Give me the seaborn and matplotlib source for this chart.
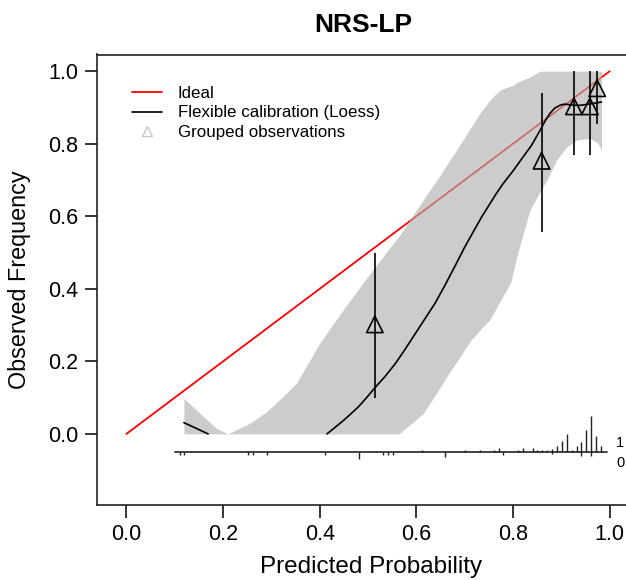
#!/usr/bin/env python3
# -*- coding: utf-8 -*-
"""
NRS-LP calibration plot (flexible loess calibration + grouped observations)
"""

import seaborn as sns
import matplotlib
matplotlib.use("Agg")
import matplotlib.pyplot as plt
from matplotlib.lines import Line2D
import numpy as np
import pandas as pd

# ---- data ----
# ideal line
ideal_x = [0.0, 1.0]
ideal_y = [0.0, 1.0]

# loess curve (two visible pieces, the middle part lies below 0)
loess_x1 = [0.119, 0.145, 0.169]
loess_y1 = [0.031, 0.015, 0.0]
loess_x2 = [0.415, 0.430, 0.450, 0.465, 0.481, 0.497, 0.514, 0.535, 0.556, 0.576,
            0.597, 0.618, 0.639, 0.660, 0.680, 0.700, 0.721, 0.735, 0.750, 0.765,
            0.780, 0.800, 0.821, 0.838, 0.856, 0.866, 0.876, 0.886, 0.897, 0.905,
            0.915, 0.925, 0.940, 0.955, 0.966, 0.983]
loess_y2 = [0.0, 0.016, 0.038, 0.056, 0.076, 0.100, 0.127, 0.158, 0.193, 0.232,
            0.275, 0.318, 0.361, 0.412, 0.463, 0.515, 0.565, 0.598, 0.630, 0.662,
            0.691, 0.725, 0.764, 0.795, 0.837, 0.862, 0.883, 0.898, 0.906, 0.909,
            0.908, 0.906, 0.906, 0.909, 0.911, 0.915]

# confidence band of the loess curve
band_x = [0.119, 0.152, 0.186, 0.210, 0.255, 0.290, 0.324, 0.352, 0.400, 0.450,
          0.500, 0.550, 0.564, 0.600, 0.614, 0.650, 0.663, 0.683, 0.713, 0.731,
          0.752, 0.763, 0.773, 0.796, 0.800, 0.810, 0.835, 0.856, 0.870, 0.890,
          0.911, 0.932, 0.959, 0.976, 0.983]
band_hi = [0.098, 0.057, 0.016, 0.0, 0.029, 0.061, 0.103, 0.140, 0.250, 0.345,
           0.435, 0.522, 0.545, 0.617, 0.645, 0.715, 0.742, 0.782, 0.845, 0.883,
           0.920, 0.935, 0.948, 0.960, 0.961, 0.970, 0.984, 1.0, 1.0, 1.0,
           1.0, 1.0, 1.0, 1.0, 1.0]
band_lo = [0.0, 0.0, 0.0, 0.0, 0.0, 0.0, 0.0, 0.0, 0.0, 0.0,
           0.0, 0.0, 0.0, 0.040, 0.056, 0.130, 0.158, 0.198, 0.259, 0.285,
           0.315, 0.341, 0.365, 0.420, 0.445, 0.500, 0.617, 0.668, 0.700, 0.755,
           0.791, 0.810, 0.815, 0.801, 0.782]

# grouped observations with 95% CI
group_x = [0.514, 0.859, 0.926, 0.959, 0.974]
group_y = [0.302, 0.753, 0.903, 0.903, 0.953]
group_lo = [0.099, 0.558, 0.768, 0.768, 0.855]
group_hi = [0.500, 0.941, 1.0, 1.0, 1.0]

# spike histogram of predictions (events up, non-events down)
spike1_x = [0.611, 0.700, 0.731, 0.761, 0.771, 0.811, 0.820, 0.841, 0.849, 0.859,
            0.870, 0.880, 0.890, 0.901, 0.911, 0.921, 0.932, 0.941, 0.950, 0.961,
            0.971, 0.981]
spike1_h = [0.006, 0.006, 0.006, 0.006, 0.011, 0.006, 0.011, 0.011, 0.006, 0.006,
            0.006, 0.008, 0.017, 0.030, 0.050, 0.006, 0.017, 0.028, 0.061, 0.099,
            0.044, 0.017]
spike0_x = [0.110, 0.119, 0.252, 0.261, 0.290, 0.411, 0.482, 0.531, 0.542, 0.551,
            0.660, 0.780, 0.880, 0.941, 0.961]
spike0_h = [0.008, 0.008, 0.008, 0.008, 0.008, 0.008, 0.019, 0.008, 0.008, 0.008,
            0.014, 0.008, 0.006, 0.011, 0.011]
spike_base = -0.05

ticks = [0.0, 0.2, 0.4, 0.6, 0.8, 1.0]
tick_labels = ["0.0", "0.2", "0.4", "0.6", "0.8", "1.0"]


def main():
    sns.set_style("ticks")
    plt.rcParams["font.family"] = ["Liberation Sans", "DejaVu Sans"]
    plt.rcParams["text.color"] = "black"
    plt.rcParams["axes.labelcolor"] = "black"
    plt.rcParams["xtick.color"] = "black"
    plt.rcParams["ytick.color"] = "black"

    fig = plt.figure(figsize=(6.26, 5.8), dpi=100)
    # right edge of the plot box lies just past the figure edge
    ax = fig.add_axes([97 / 626, 75 / 580, 548 / 626, 450.5 / 580])

    # ideal line under the band
    sns.lineplot(x=ideal_x, y=ideal_y, color="red", linewidth=1.3, ax=ax,
                 legend=False, zorder=2)

    # confidence band
    ax.fill_between(band_x, band_lo, band_hi, color="#afafaf", alpha=0.63,
                    linewidth=0, zorder=3)

    # loess curve
    sns.lineplot(x=loess_x1, y=loess_y1, color="black", linewidth=1.2, ax=ax,
                 legend=False, zorder=4)
    sns.lineplot(x=loess_x2, y=loess_y2, color="black", linewidth=1.2, ax=ax,
                 legend=False, zorder=4, sort=False)

    # grouped observations
    ax.vlines(group_x, group_lo, group_hi, color="black", linewidth=1.2, zorder=5)
    sns.scatterplot(x=group_x, y=group_y, marker="^", s=140, facecolor="none",
                    edgecolor="black", linewidth=1.2, ax=ax, zorder=6)

    # spike histogram
    ax.plot([0.10, 0.995], [spike_base, spike_base], color="#333333",
            linewidth=1.3, zorder=4)
    ax.vlines(spike1_x, spike_base, np.array(spike1_h) + spike_base,
              color="#222222", linewidth=1.0, zorder=4)
    ax.vlines(spike0_x, spike_base - np.array(spike0_h), spike_base,
              color="#222222", linewidth=1.0, zorder=4)
    ax.text(1.013, -0.024, "1", fontsize=10.5, ha="left", va="center")
    ax.text(1.013, -0.080, "0", fontsize=10.5, ha="left", va="center")

    # axes
    ax.set_xlim(-0.0608, 1.073)
    ax.set_ylim(-0.196, 1.046)
    ax.set_xticks(ticks)
    ax.set_xticklabels(tick_labels)
    ax.set_yticks(ticks)
    ax.set_yticklabels(tick_labels)
    ax.tick_params(direction="out", length=9, width=1.1, labelsize=15.5,
                   pad=4.5)
    for sp in ax.spines.values():
        sp.set_visible(True)
        sp.set_linewidth(1.2)
        sp.set_color("#222222")

    ax.set_xlabel("Predicted Probability", fontsize=17.5, labelpad=8)
    ax.set_ylabel("Observed Frequency", fontsize=16.8, labelpad=12)
    # keep the title centred on the visible 0..1 box as in the original
    ax.set_title("NRS-LP", fontsize=19, fontweight="bold", pad=16.4,
                 x=(363 - 97) / 548)

    # legend
    handles = [
        Line2D([], [], color="red", linewidth=1.3),
        Line2D([], [], color="black", linewidth=1.2),
        Line2D([], [], linestyle="none", marker="^", markersize=7,
               markerfacecolor="none", markeredgecolor="#c8c8c8",
               markeredgewidth=1.0),
    ]
    labels = ["Ideal", "Flexible calibration (Loess)", "Grouped observations"]
    ax.legend(handles, labels, loc="upper left",
              bbox_to_anchor=(35 / 548, 0.930),
              frameon=False, fontsize=12.2, borderpad=0, borderaxespad=0,
              handlelength=1.78, handletextpad=0.92, labelspacing=0.26)

    fig.savefig("out.png", dpi=100)
    plt.close(fig)


if __name__ == "__main__":
    main()
